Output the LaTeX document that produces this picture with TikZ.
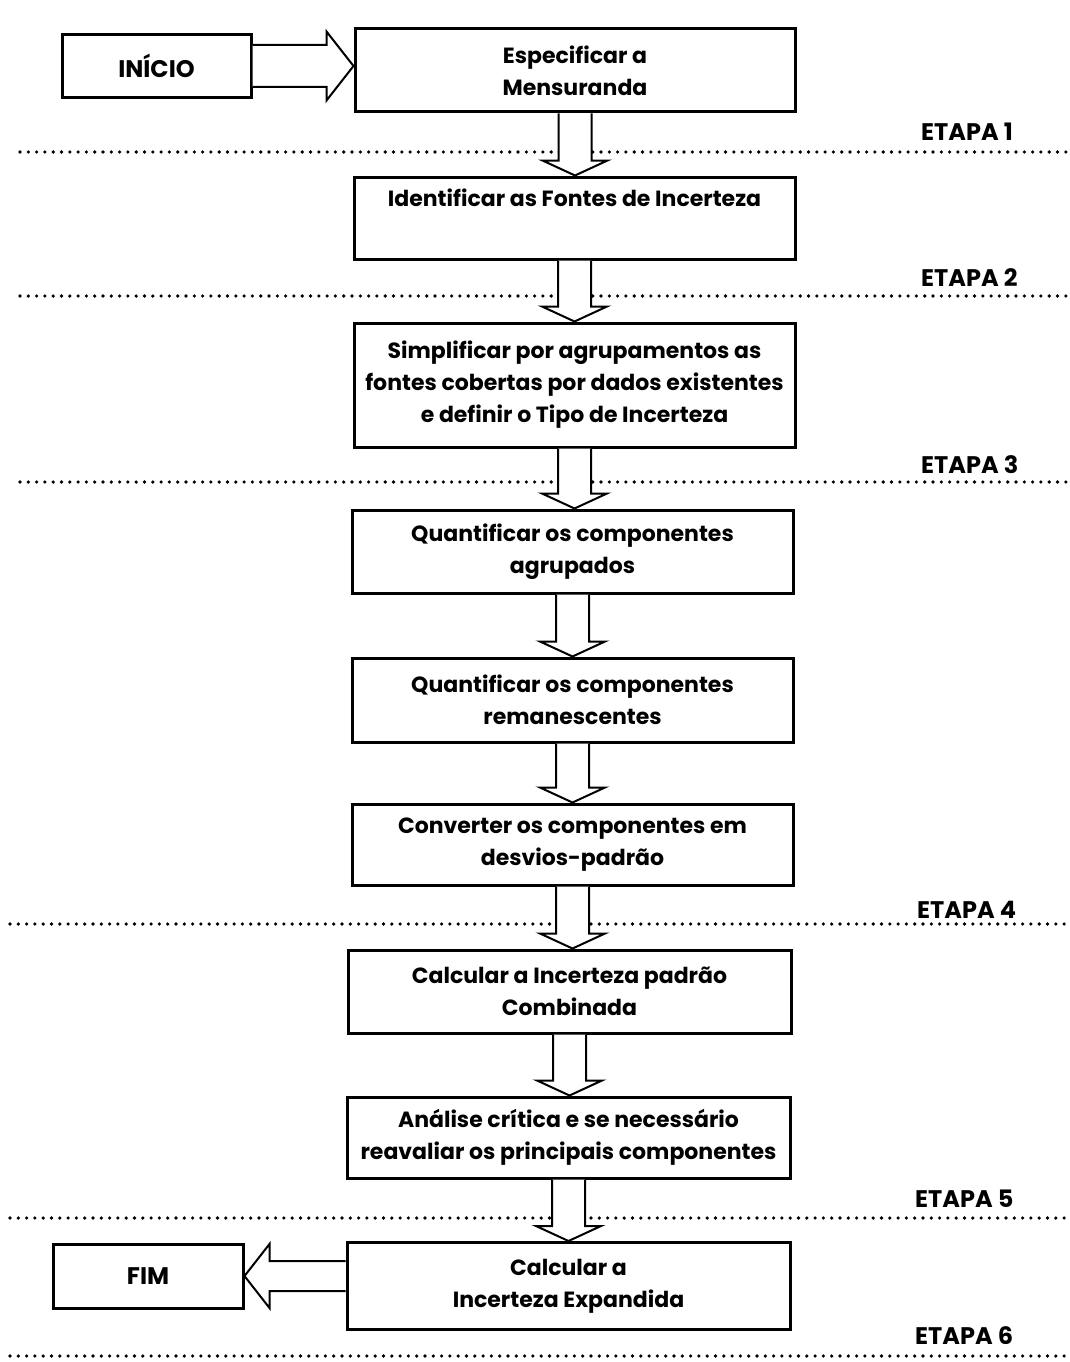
\documentclass[tikz,border=0pt]{standalone}
\usepackage{fontspec}
\setmainfont{Poppins}
\usepackage{tikz}
\usetikzlibrary{calc}
\tikzset{
    caixa/.style={draw, line width=3pt, inner sep=0pt, align=center,
        font=\fontsize{22}{32}\selectfont\bfseries},
    terminal/.style={caixa, font=\fontsize{24}{32}\selectfont\bfseries},
    seta/.style={draw, fill=white, line width=2pt, line join=miter},
    pontilhado/.style={line width=3.6pt, line cap=round, dash pattern=on 0pt off 8.3pt},
    etapa/.style={anchor=base west, inner sep=0pt, font=\fontsize{24}{28}\selectfont\bfseries}
}
% hollow block arrows between boxes
\newcommand{\setabaixo}[2]{%
    \draw[seta] ($(#1.south)+(-16.5,0)$) -- ($(#1.south |- #2.north)+(-16.5,-15)$)
        -- ++(-16,0) -- (#1.south |- #2.north) -- ++(32.5,-15) -- ++(-16,0)
        -- ($(#1.south)+(16.5,0)$);}
\newcommand{\setadireita}[2]{%
    \draw[seta] ($(#1.east)+(0,-21)$) -- ($(#2.west |- #1.east)+(-27,-21)$)
        -- ++(0,-13.5) -- (#2.west |- #1.east) -- ++(-27,34.5) -- ++(0,-13.5)
        -- ($(#1.east)+(0,21)$);}
\newcommand{\setaesquerda}[2]{%
    \draw[seta] ($(#1.west |- #2.east)+(0,-15)$) -- ($(#2.east)+(25,-15)$)
        -- ++(0,-17) -- (#2.east) -- ++(25,32) -- ++(0,-17)
        -- ($(#1.west |- #2.east)+(0,15)$);}

\begin{document}
\begin{tikzpicture}[x=1pt, y=-1pt]
    \useasboundingbox (0,0) rectangle (1070,1362);

    % Stage separators
    \foreach \xa/\ya in {20/152, 20/296, 20/482, 10/924, 10/1218, 10/1356}
        \draw[pontilhado] (\xa,\ya) -- (1070,\ya);
    \node[etapa] (etapa1) at (921,140) {ETAPA 1};
    \node[etapa] (etapa2) at (921,286) {ETAPA 2};
    \node[etapa] (etapa3) at (921,473) {ETAPA 3};
    \node[etapa] (etapa4) at (917,918) {ETAPA 4};
    \node[etapa] (etapa5) at (915,1207) {ETAPA 5};
    \node[etapa] (etapa6) at (915,1344) {ETAPA 6};

    % Boxes
    \node[terminal, minimum width=189, minimum height=63] (inicio) at (156.5,66) {INÍCIO};
    \node[caixa, minimum width=440, minimum height=83] (especificar) at (575,70.5)
        {Especificar a\\Mensuranda};
    \node[caixa, minimum width=441, minimum height=82] (identificar) at (574.5,218)
        {Identificar as Fontes de Incerteza\\ \strut};
    \node[caixa, minimum width=441, minimum height=124] (simplificar) at (574.5,385)
        {Simplificar por agrupamentos as\\fontes cobertas por dados existentes\\e definir o Tipo de Incerteza};
    \node[caixa, minimum width=441, minimum height=83] (agrupados) at (572.5,551.5)
        {Quantificar os componentes\\agrupados};
    \node[caixa, minimum width=441, minimum height=84] (remanescentes) at (572.5,700)
        {Quantificar os componentes\\remanescentes};
    \node[caixa, minimum width=441, minimum height=81] (converter) at (572.5,844.5)
        {Converter os componentes em\\desvios-padrão};
    \node[caixa, minimum width=443, minimum height=83] (combinada) at (569.5,991.5)
        {Calcular a Incerteza padrão\\Combinada};
    \node[caixa, minimum width=443, minimum height=81] (analise) at (568.5,1137.5)
        {Análise crítica e se necessário\\reavaliar os principais componentes};
    \node[caixa, minimum width=443, minimum height=87] (expandida) at (568.5,1286)
        {Calcular a\\Incerteza Expandida};
    \node[terminal, minimum width=190, minimum height=64] (fim) at (148,1276) {FIM};

    % Arrows
    \setadireita{inicio}{especificar}
    \setabaixo{especificar}{identificar}
    \setabaixo{identificar}{simplificar}
    \setabaixo{simplificar}{agrupados}
    \setabaixo{agrupados}{remanescentes}
    \setabaixo{remanescentes}{converter}
    \setabaixo{converter}{combinada}
    \setabaixo{combinada}{analise}
    \setabaixo{analise}{expandida}
    \setaesquerda{expandida}{fim}
\end{tikzpicture}
\end{document}
